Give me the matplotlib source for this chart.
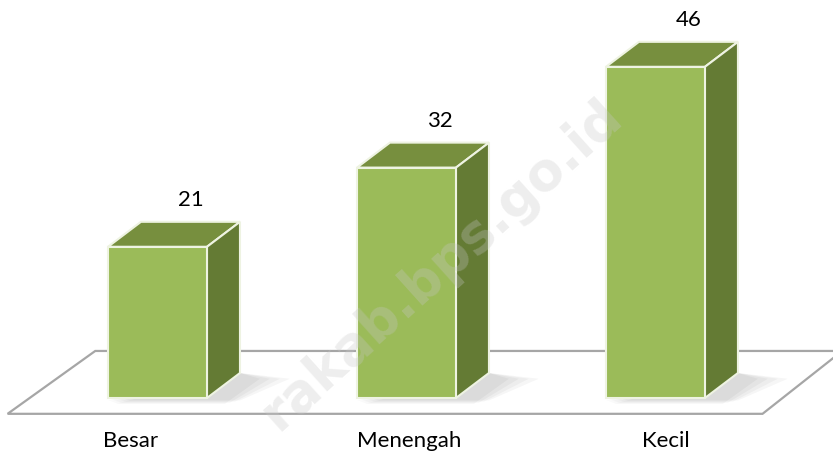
import matplotlib.pyplot as plt
from matplotlib.patches import Polygon
import numpy as np

categories = ['Besar', 'Menengah', 'Kecil']
values = [21, 32, 46]

front_col = '#9BBB59'
top_col = '#778F3E'
side_col = '#647B34'
edge_col = '#EEF3E2'

fig = plt.figure(figsize=(8.33, 4.65), dpi=100)
ax = fig.add_axes([0, 0, 1, 1])
ax.set_xlim(-0.6325, 2.713)
ax.set_ylim(-9.31, 55.28)
ax.axis('off')

x = np.arange(len(categories))
width = 0.3976   # front face width
dx = 0.1325      # depth offset to the right
dy = 3.47        # depth offset upwards

# floor plane
floor = Polygon([(-0.602, -2.2), (2.43, -2.2), (2.75, 6.53), (-0.25, 6.53)],
                closed=True, facecolor='white', edgecolor='#A6A6A6', lw=1.6, zorder=1)
ax.add_patch(floor)

# soft shadows under bars
for xi in x:
    for k in range(4):
        sh = Polygon([(xi - width / 2 + 0.01 * k, -0.35 - 0.15 * k),
                      (xi + width / 2 + dx - 0.02 * k, -0.35 - 0.15 * k),
                      (xi + width / 2 + dx + 0.2 - 0.04 * k, dy - 0.8),
                      (xi + width / 2 + dx, dy)],
                     closed=True, facecolor='black', alpha=0.035, lw=0, zorder=2)
        ax.add_patch(sh)

bars = ax.bar(x, values, width, color=front_col, edgecolor=edge_col, lw=1.5, zorder=4)

for xi, v in zip(x, values):
    l, r = xi - width / 2, xi + width / 2
    top = Polygon([(l, v), (r, v), (r + dx, v + dy), (l + dx, v + dy)],
                  closed=True, facecolor=top_col, edgecolor=edge_col, lw=1.5, zorder=3)
    side = Polygon([(r, 0), (r + dx, dy), (r + dx, v + dy), (r, v)],
                   closed=True, facecolor=side_col, edgecolor=edge_col, lw=1.5, zorder=3)
    ax.add_patch(top)
    ax.add_patch(side)
    ax.text(xi + dx, v + dy + 1.6, str(v), ha='center', va='bottom',
            fontsize=16, family='Lato', color='black', zorder=6)

label_x = [-0.11, 1.01, 2.04]
for lx, c in zip(label_x, categories):
    ax.text(lx, -6.0, c, ha='center', va='center', fontsize=16, family='Lato', color='black')

# watermark
fig.text(0.53, 0.43, 'rakab.bps.go.id', fontsize=38, fontweight='bold', family='DejaVu Sans',
         color='#C8C8C8', alpha=0.3, rotation=42, ha='center', va='center', zorder=10)

fig.savefig('out.png', dpi=100)
